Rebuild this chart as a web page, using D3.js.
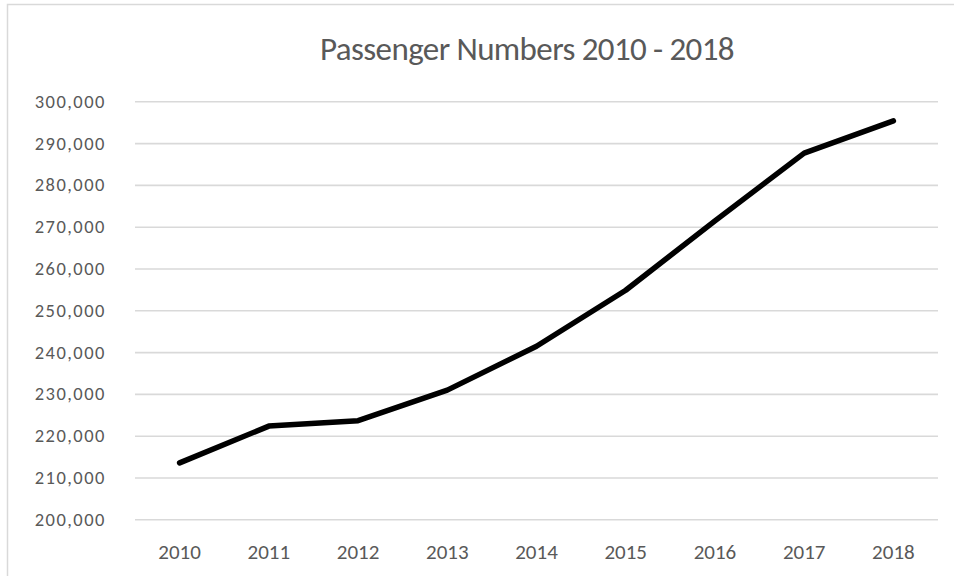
<!DOCTYPE html>
<html>
<head>
<meta charset="utf-8">
<script src="https://cdn.jsdelivr.net/npm/d3@7"></script>
<style>
  html, body { margin: 0; padding: 0; background: #ffffff; }
  svg { display: block; }
  text { font-family: Carlito, Calibri, Lato, "Open Sans", sans-serif; fill: #595959; }
</style>
</head>
<body>
<svg id="chart" width="954" height="576"></svg>
<script>
const title = "Passenger Numbers 2010 - 2018";
const years = ["2010", "2011", "2012", "2013", "2014", "2015", "2016", "2017", "2018"];
const passengers = [213500, 222300, 223600, 230900, 241400, 254800, 271400, 287600, 295300];
const yTicks = [200000, 210000, 220000, 230000, 240000, 250000, 260000, 270000, 280000, 290000, 300000];

const svg = d3.select("#chart");
const W = 954, H = 576;
const FONT = "Carlito, Calibri, Lato, 'Open Sans', sans-serif";

// chart border
svg.append("rect")
  .attr("x", 7.5).attr("y", 4.5)
  .attr("width", W + 10).attr("height", H + 10)
  .attr("fill", "#ffffff")
  .attr("stroke", "#d9d9d9")
  .attr("stroke-width", 1.5);

const left = 135, right = 938;
const x = d3.scaleBand().domain(years).range([left, right]);
const y = d3.scaleLinear().domain([200000, 300000]).range([519.3, 101.3]);

// y axis + gridlines
const yAxis = d3.axisLeft(y).tickValues(yTicks).tickSize(-(right - left)).tickPadding(29)
  .tickFormat(d3.format(","));
const gy = svg.append("g").attr("transform", `translate(${left},0)`).call(yAxis);
gy.select(".domain").remove();
gy.selectAll(".tick line").attr("stroke", "#d9d9d9").attr("stroke-width", 1.6);
gy.selectAll(".tick text")
  .attr("font-size", 18.5)
  .attr("letter-spacing", 1.5)
  .attr("fill", "#595959")
  .style("font-family", FONT);

// x axis labels
const xAxis = d3.axisBottom(x).tickSize(0).tickPadding(0);
const gx = svg.append("g").attr("transform", "translate(0,519.3)").call(xAxis);
gx.select(".domain").remove();
gx.selectAll(".tick text")
  .attr("dy", null)
  .attr("y", 40)
  .attr("font-size", 21)
  .attr("letter-spacing", 0)
  .attr("fill", "#595959")
  .style("font-family", FONT);

// line
const line = d3.line()
  .x((d, i) => x(years[i]) + x.bandwidth() / 2)
  .y(d => y(d));
svg.append("path")
  .datum(passengers)
  .attr("d", line)
  .attr("fill", "none")
  .attr("stroke", "#000000")
  .attr("stroke-width", 5.5)
  .attr("stroke-linejoin", "round")
  .attr("stroke-linecap", "round");

// title
svg.append("text")
  .attr("x", 527).attr("y", 60)
  .attr("text-anchor", "middle")
  .attr("font-size", 33)
  .attr("font-weight", 300)
  .attr("letter-spacing", -0.6)
  .style("font-family", FONT)
  .text(title);
</script>
</body>
</html>
